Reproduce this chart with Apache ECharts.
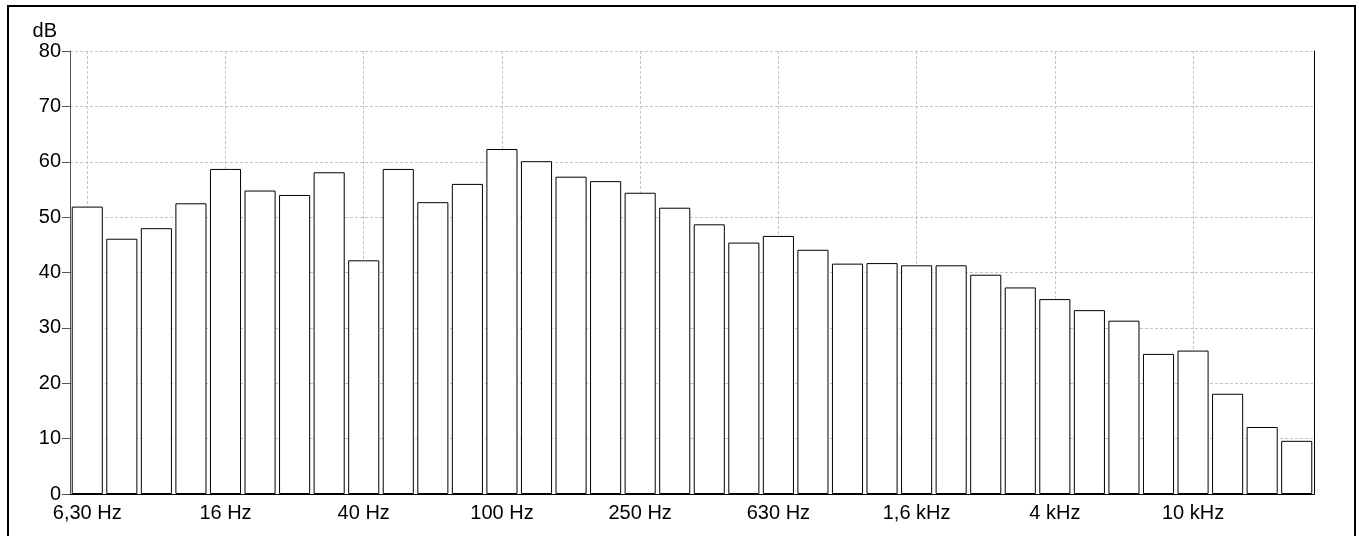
<!DOCTYPE html>
<html>
<head>
<meta charset="utf-8">
<script src="https://cdn.jsdelivr.net/npm/echarts@6/dist/echarts.min.js"></script>
<style>
    html, body { margin: 0; padding: 0; background: #fff; }
    #chart { width: 1359px; height: 536px; }
</style>
</head>
<body>
<div id="chart"></div>
<script>
// third-octave bands, 6.3 Hz .. 20 kHz
var bands = [
    '6,30 Hz', '8 Hz', '10 Hz', '12,5 Hz', '16 Hz', '20 Hz', '25 Hz', '31,5 Hz',
    '40 Hz', '50 Hz', '63 Hz', '80 Hz', '100 Hz', '125 Hz', '160 Hz', '200 Hz',
    '250 Hz', '315 Hz', '400 Hz', '500 Hz', '630 Hz', '800 Hz', '1 kHz', '1,25 kHz',
    '1,6 kHz', '2 kHz', '2,5 kHz', '3,15 kHz', '4 kHz', '5 kHz', '6,3 kHz', '8 kHz',
    '10 kHz', '12,5 kHz', '16 kHz', '20 kHz'
];
var levels = [
    51.9, 46.1, 48.0, 52.5, 58.7, 54.8, 54.0, 58.1,
    42.2, 58.7, 52.7, 56.0, 62.3, 60.1, 57.3, 56.5,
    54.4, 51.7, 48.7, 45.4, 46.6, 44.1, 41.6, 41.7,
    41.3, 41.3, 39.6, 37.3, 35.2, 33.2, 31.3, 25.3,
    25.9, 18.1, 12.1, 9.6
];

var font = 'Liberation Sans, Arial, sans-serif';
var chart = echarts.init(document.getElementById('chart'));

var option = {
    animation: false,
    backgroundColor: '#fff',
    textStyle: { fontFamily: font },
    grid: { left: 70, right: 45, top: 51, bottom: 42 },
    graphic: [{
        type: 'rect',
        shape: { x: 8, y: 6, width: 1347, height: 560 },
        style: { fill: null, stroke: '#000', lineWidth: 2 },
        silent: true
    }],
    xAxis: [{
        type: 'category',
        data: bands,
        boundaryGap: true,
        axisLine: { lineStyle: { color: '#000', width: 1 } },
        axisTick: { alignWithLabel: true, interval: 3, length: 7, lineStyle: { color: '#000' } },
        axisLabel: { interval: 3, margin: 9, color: '#000', fontSize: 20, fontFamily: font },
        splitLine: {
            show: true,
            interval: 3,
            alignWithLabel: true,
            lineStyle: { color: '#c4c4c4', type: [3, 2], width: 1 }
        }
    }, {
        type: 'category',
        data: bands,
        position: 'top',
        axisLine: { lineStyle: { color: '#000', width: 1 } },
        axisTick: { show: false },
        axisLabel: { show: false },
        splitLine: { show: false }
    }],
    yAxis: [{
        type: 'value',
        min: 0,
        max: 80,
        interval: 10,
        name: 'dB',
        nameLocation: 'end',
        nameGap: 9,
        nameTextStyle: { color: '#000', fontSize: 20, fontFamily: font, align: 'right', padding: [0, 13, 0, 0] },
        axisLine: { show: true, lineStyle: { color: '#555', width: 1 } },
        axisTick: { show: true, length: 8, lineStyle: { color: '#555' } },
        axisLabel: { margin: 9, color: '#000', fontSize: 20, fontFamily: font },
        splitLine: { show: true, lineStyle: { color: '#c4c4c4', type: [3, 2], width: 1 } }
    }, {
        type: 'value',
        min: 0,
        max: 80,
        interval: 10,
        position: 'right',
        axisLine: { show: true, lineStyle: { color: '#000', width: 1 } },
        axisTick: { show: false },
        axisLabel: { show: false },
        splitLine: { show: false }
    }],
    series: [{
        type: 'bar',
        data: levels,
        barCategoryGap: '10%',
        itemStyle: { color: '#fff', borderColor: '#000', borderWidth: 1 },
        emphasis: { disabled: true }
    }]
};

chart.setOption(option);
</script>
</body>
</html>
